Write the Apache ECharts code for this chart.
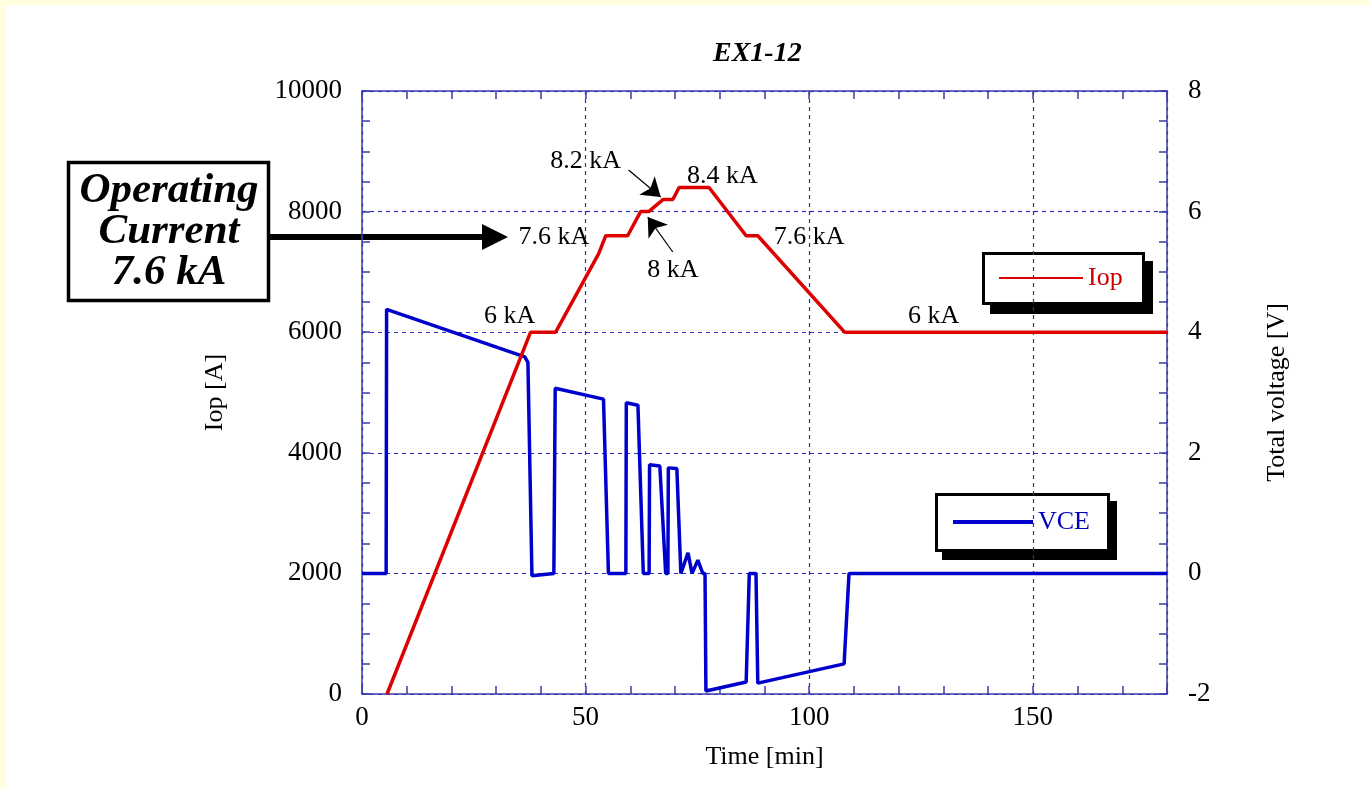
<!DOCTYPE html>
<html>
<head>
<meta charset="utf-8">
<title>EX1-12</title>
<script src="https://cdn.jsdelivr.net/npm/echarts@6/dist/echarts.min.js"></script>
<style>
  html, body { margin: 0; padding: 0; background: #fff; }
  #chart { width: 1369px; height: 788px; }
</style>
</head>
<body>
<div id="chart"></div>
<script>
// operating current Iop [A] vs time [min]
const iopTime = [5.6, 37.7, 43.3, 52.9, 54.5, 59.4, 62.3, 64.1, 67.3, 69.5, 70.9, 77.6, 85.9, 88.5, 107.9, 180];
const iopAmp = [0, 6000, 6000, 7300, 7600, 7600, 8000, 8000, 8200, 8200, 8400, 8400, 7600, 7600, 6000, 6000];

// total voltage VCE [V] vs time [min]
const vceTime = [0, 5.4, 5.5, 36.4, 37.1, 38.0, 42.9, 43.2, 54.0, 55.1, 59.0, 59.1, 61.7, 62.9,
  64.2, 64.3, 66.6, 67.9, 68.4, 68.5, 70.4, 71.3, 72.9, 73.8, 75.1, 76.2, 76.7, 76.9,
  85.9, 86.6, 88.1, 88.5, 107.8, 108.9, 180];
const vceVolt = [0, 0, 4.38, 3.59, 3.5, -0.04, 0, 3.07, 2.89, 0, 0, 2.83, 2.79, 0,
  0, 1.80, 1.78, 0, 0, 1.75, 1.74, 0, 0.34, 0, 0.22, 0, 0, -1.95,
  -1.8, 0, 0, -1.82, -1.5, 0, 0];

// kA annotations along the current curve
const noteText = ['6 kA', '7.6 kA', '8.2 kA', '8.4 kA', '8 kA', '7.6 kA', '6 kA'];
const noteTime = [33, 42.9, 50, 80.6, 69.5, 100, 127.8];
const noteAmp = [6270, 7580, 8840, 8590, 7030, 7580, 6270];

// small pointer arrows (from -> to), time / current
const pointerFrom = [[59.6, 8690], [69.5, 7330]];
const pointerTo = [[66.8, 8242], [63.9, 7910]];

const xTicks = { min: 0, max: 180, interval: 50 };
const iopTicks = { min: 0, max: 10000, interval: 2000 };
const vceTicks = { min: -2, max: 8, interval: 2 };

const serif = "'Liberation Serif', 'DejaVu Serif', serif";
const axisBlue = '#3c3caa';
const gridBlue = '#2c2cc4';

const chart = echarts.init(document.getElementById('chart'));

function frameAxis(extra) {
  return Object.assign({
    axisLine: { show: true, onZero: false, lineStyle: { color: axisBlue, width: 1.5 } },
    axisTick: { show: true, inside: true, length: 8, lineStyle: { color: axisBlue, width: 1.5 } },
    minorTick: { show: true, length: 8, lineStyle: { color: axisBlue, width: 1.5 } },
    axisLabel: { color: '#000', fontFamily: serif, fontSize: 27, formatter: (v) => String(v) },
    nameTextStyle: { color: '#000', fontFamily: serif, fontSize: 26 },
    splitLine: { show: false },
    minorSplitLine: { show: false }
  }, extra);
}

const option = {
  animation: false,
  backgroundColor: '#fff',
  title: {
    text: 'EX1-12',
    left: 713,
    top: 40,
    padding: 0,
    textStyle: { fontFamily: serif, fontSize: 28, fontWeight: 'bold', fontStyle: 'italic', color: '#000' }
  },
  grid: { left: 362, right: 202, top: 91, bottom: 94, outerBoundsMode: 'none' },
  legend: [
    {
      data: ['Iop'],
      left: 999, top: 265, padding: 0,
      icon: 'rect', itemWidth: 84, itemHeight: 2,
      textStyle: { color: '#cc0000', fontFamily: serif, fontSize: 26 }
    },
    {
      data: ['VCE'],
      left: 953, top: 509, padding: 0,
      icon: 'rect', itemWidth: 80, itemHeight: 4,
      textStyle: { color: '#0000bb', fontFamily: serif, fontSize: 26 }
    }
  ],
  xAxis: [
    frameAxis({
      type: 'value', position: 'bottom',
      min: xTicks.min, max: xTicks.max, interval: xTicks.interval,
      minorTick: { show: true, splitNumber: 5, length: 8, lineStyle: { color: axisBlue, width: 1.5 } },
      axisLabel: { color: '#000', fontFamily: serif, fontSize: 27, margin: 10, showMaxLabel: false, formatter: (v) => String(v) },
      splitLine: { show: true, lineStyle: { color: gridBlue, type: [4, 4], width: 1.2 } },
      name: 'Time [min]', nameLocation: 'middle', nameGap: 50
    }),
    frameAxis({
      type: 'value', position: 'top',
      min: xTicks.min, max: xTicks.max, interval: xTicks.interval,
      minorTick: { show: true, splitNumber: 5, length: 8, lineStyle: { color: axisBlue, width: 1.5 } },
      axisLabel: { show: false }
    })
  ],
  yAxis: [
    frameAxis({
      type: 'value', position: 'left',
      min: iopTicks.min, max: iopTicks.max, interval: iopTicks.interval,
      minorTick: { show: true, splitNumber: 4, length: 8, lineStyle: { color: axisBlue, width: 1.5 } },
      axisLabel: { color: '#000', fontFamily: serif, fontSize: 27, margin: 20, formatter: (v) => String(v) },
      splitLine: { show: true, lineStyle: { color: gridBlue, type: [4, 4], width: 1.2 } },
      name: 'Iop [A]', nameLocation: 'middle', nameRotate: 90, nameGap: 134
    }),
    frameAxis({
      type: 'value', position: 'right',
      min: vceTicks.min, max: vceTicks.max, interval: vceTicks.interval,
      minorTick: { show: true, splitNumber: 4, length: 8, lineStyle: { color: axisBlue, width: 1.5 } },
      axisLabel: { color: '#000', fontFamily: serif, fontSize: 27, margin: 21, formatter: (v) => String(v) },
      name: 'Total voltage [V]', nameLocation: 'middle', nameRotate: 90, nameGap: 97
    })
  ],
  series: [
    {
      name: 'VCE',
      type: 'line',
      yAxisIndex: 1,
      showSymbol: false,
      color: '#0000cc',
      lineStyle: { color: '#0000cc', width: 3.5 },
      data: vceTime.map((t, i) => [t, vceVolt[i]])
    },
    {
      name: 'Iop',
      type: 'line',
      yAxisIndex: 0,
      showSymbol: false,
      color: '#dd0000',
      lineStyle: { color: '#dd0000', width: 3.5 },
      data: iopTime.map((t, i) => [t, iopAmp[i]]),
      markPoint: {
        symbol: 'circle',
        symbolSize: 1,
        silent: true,
        itemStyle: { color: 'rgba(0,0,0,0)' },
        label: { show: true, position: 'inside', formatter: '{b}', color: '#000', fontFamily: serif, fontSize: 26 },
        data: noteText.map((txt, i) => ({ name: txt, coord: [noteTime[i], noteAmp[i]] }))
      },
      markLine: {
        silent: true,
        symbol: ['none', 'arrow'],
        symbolSize: 18,
        label: { show: false },
        lineStyle: { color: '#000', width: 1.2, type: 'solid' },
        data: pointerFrom.map((p, i) => [{ coord: p }, { coord: pointerTo[i] }])
      }
    }
  ],
  graphic: [
    // pale yellow page edge
    { type: 'rect', shape: { x: 0, y: 0, width: 1369, height: 5 }, style: { fill: '#ffffdc' }, silent: true },
    { type: 'rect', shape: { x: 0, y: 0, width: 6, height: 788 }, style: { fill: '#ffffdc' }, silent: true },
    // legend frames with drop shadow
    { type: 'rect', shape: { x: 990, y: 261, width: 163, height: 53 }, style: { fill: '#000' } },
    { type: 'rect', shape: { x: 983.5, y: 253.5, width: 160, height: 50 }, style: { fill: '#fff', stroke: '#000', lineWidth: 3 } },
    { type: 'rect', shape: { x: 942, y: 501, width: 175, height: 59 }, style: { fill: '#000' } },
    { type: 'rect', shape: { x: 936.5, y: 494.5, width: 172, height: 56 }, style: { fill: '#fff', stroke: '#000', lineWidth: 3 } },
    // operating current call-out
    { type: 'rect', shape: { x: 68.5, y: 162.5, width: 200, height: 138 }, style: { fill: '#fff', stroke: '#000', lineWidth: 3.5 } },
    {
      type: 'text', x: 169, y: 232,
      style: {
        text: 'Operating\nCurrent\n7.6 kA',
        fontFamily: serif, fontSize: 43, fontWeight: 'bold', fontStyle: 'italic',
        lineHeight: 41, align: 'center', verticalAlign: 'middle', fill: '#000'
      }
    },
    { type: 'line', shape: { x1: 270, y1: 237, x2: 486, y2: 237 }, style: { stroke: '#000', lineWidth: 6 } },
    { type: 'polygon', shape: { points: [[482, 224], [508, 237], [482, 250]] }, style: { fill: '#000' } }
  ]
};

chart.setOption(option);
</script>
</body>
</html>
